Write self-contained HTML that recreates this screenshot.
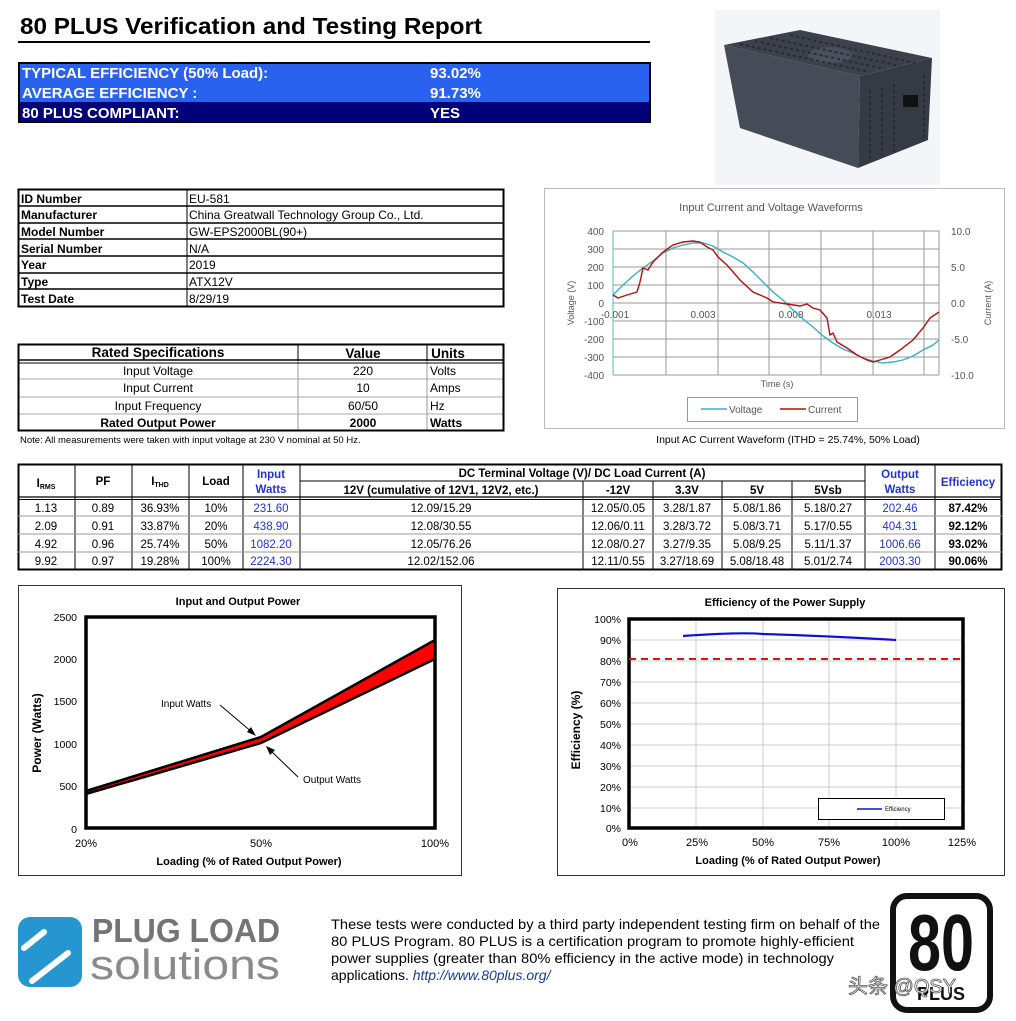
<!DOCTYPE html>
<html><head><meta charset="utf-8"><style>html,body{margin:0;padding:0;background:#fff}svg{display:block}</style></head>
<body>
<svg width="1016" height="1021" viewBox="0 0 1016 1021" xmlns="http://www.w3.org/2000/svg" font-family="Liberation Sans, Arial, sans-serif">
<rect width="1016" height="1021" fill="#fff"/>
<!-- Title -->
<text x="20" y="34" font-size="23" font-weight="bold" fill="#000" textLength="462" lengthAdjust="spacingAndGlyphs">80 PLUS Verification and Testing Report</text>
<rect x="18" y="41" width="632" height="2" fill="#000"/>
<!-- Blue box -->
<rect x="18" y="62" width="633" height="61" fill="#000"/>
<rect x="20" y="64" width="629" height="38" fill="#2a62f0"/>
<rect x="20" y="102" width="629" height="20" fill="#000078"/>
<g font-size="15" font-weight="bold" fill="#fff">
<text x="22" y="78">TYPICAL EFFICIENCY (50% Load):</text><text x="430" y="78">93.02%</text>
<text x="22" y="98">AVERAGE EFFICIENCY :</text><text x="430" y="98">91.73%</text>
<text x="22" y="118">80 PLUS COMPLIANT:</text><text x="430" y="118">YES</text>
</g>
<!-- Photo -->
<rect x="715" y="10" width="225" height="175" fill="#f4f5f8"/>
<polygon points="724,45 800,30 932,58 860,76" fill="#3c414c"/>
<polygon points="724,45 860,76 858,168 740,128" fill="#454b57"/>
<polygon points="860,76 932,58 928,140 858,168" fill="#353a44"/>
<ellipse cx="830" cy="55" rx="22" ry="8" fill="#4a505c"/>
<g stroke="#22252b" stroke-width="2" stroke-dasharray="3,3" opacity="0.8">
<line x1="740" y1="44" x2="870" y2="72"/><line x1="755" y1="41" x2="885" y2="69"/><line x1="770" y1="38" x2="900" y2="66"/><line x1="790" y1="35" x2="915" y2="63"/>
<line x1="870" y1="90" x2="870" y2="160"/><line x1="882" y1="88" x2="882" y2="156"/><line x1="894" y1="84" x2="894" y2="152"/><line x1="924" y1="75" x2="924" y2="140"/>
</g>
<rect x="903" y="95" width="15" height="12" fill="#111"/>
<!-- ID table -->
<g stroke="#000" fill="none">
<rect x="18.5" y="189.5" width="485" height="117" stroke-width="2"/>
<line x1="187" y1="189" x2="187" y2="306"/>
<line x1="18" y1="206" x2="503" y2="206" stroke-width="1.5"/><line x1="18" y1="223" x2="503" y2="223" stroke-width="1.5"/><line x1="18" y1="239" x2="503" y2="239" stroke-width="1.5"/><line x1="18" y1="256" x2="503" y2="256" stroke-width="1.5"/><line x1="18" y1="273" x2="503" y2="273" stroke-width="1.5"/><line x1="18" y1="289" x2="503" y2="289" stroke-width="1.5"/>
</g>
<g font-size="12" fill="#000">
<g font-weight="bold"><text x="21" y="203">ID Number</text><text x="21" y="219">Manufacturer</text><text x="21" y="236">Model Number</text><text x="21" y="253">Serial Number</text><text x="21" y="269">Year</text><text x="21" y="286">Type</text><text x="21" y="303">Test Date</text></g>
<text x="189" y="203">EU-581</text><text x="189" y="219">China Greatwall Technology Group Co., Ltd.</text><text x="189" y="236">GW-EPS2000BL(90+)</text><text x="189" y="253">N/A</text><text x="189" y="269">2019</text><text x="189" y="286">ATX12V</text><text x="189" y="303">8/29/19</text>
</g>
<!-- Rated spec table -->
<g fill="none">
<line x1="298" y1="344" x2="298" y2="431" stroke="#999"/><line x1="427" y1="344" x2="427" y2="431" stroke="#999"/>
<line x1="18" y1="379" x2="503" y2="379" stroke="#aaa"/><line x1="18" y1="397" x2="503" y2="397" stroke="#aaa"/><line x1="18" y1="414" x2="503" y2="414" stroke="#aaa"/>
<line x1="298" y1="344" x2="298" y2="361" stroke="#000"/><line x1="427" y1="344" x2="427" y2="361" stroke="#000"/>
<line x1="18" y1="360" x2="503" y2="360" stroke="#000" stroke-width="1.5"/><line x1="18" y1="363" x2="503" y2="363" stroke="#000"/>
<rect x="18.5" y="344.5" width="485" height="86" stroke="#000" stroke-width="2"/>
</g>
<g font-size="12" fill="#000" text-anchor="middle">
<g font-weight="bold" font-size="13.5"><text x="158" y="357">Rated Specifications</text><text x="363" y="358">Value</text><text x="448" y="358">Units</text></g>
<text x="158" y="375">Input Voltage</text><text x="363" y="375">220</text>
<text x="158" y="392">Input Current</text><text x="363" y="392">10</text>
<text x="158" y="410">Input Frequency</text><text x="363" y="410">60/50</text>
<text x="158" y="427" font-weight="bold">Rated Output Power</text><text x="363" y="427" font-weight="bold">2000</text>
</g>
<g font-size="12" fill="#000"><text x="430" y="375">Volts</text><text x="430" y="392">Amps</text><text x="430" y="410">Hz</text><text x="430" y="427" font-weight="bold">Watts</text></g>
<text x="20" y="443" font-size="9.5" fill="#000">Note: All measurements were taken with input voltage at 230 V nominal at 50 Hz.</text>
<!-- Waveform chart -->
<rect x="544.5" y="188.5" width="460" height="240" fill="#fff" stroke="#bbb"/>
<text x="771" y="211" font-size="11" fill="#555" text-anchor="middle">Input Current and Voltage Waveforms</text>
<g stroke="#999" stroke-width="1">
<line x1="613" y1="231" x2="939" y2="231"/><line x1="613" y1="249" x2="939" y2="249"/><line x1="613" y1="267" x2="939" y2="267"/><line x1="613" y1="285" x2="939" y2="285"/><line x1="613" y1="321" x2="939" y2="321"/><line x1="613" y1="339" x2="939" y2="339"/><line x1="613" y1="357" x2="939" y2="357"/><line x1="613" y1="375" x2="939" y2="375"/>
<line x1="666" y1="231" x2="666" y2="375"/><line x1="718" y1="231" x2="718" y2="375"/><line x1="769" y1="231" x2="769" y2="375"/><line x1="821" y1="231" x2="821" y2="375"/><line x1="873" y1="231" x2="873" y2="375"/><line x1="924" y1="231" x2="924" y2="375"/><line x1="939" y1="231" x2="939" y2="375"/>
<line x1="613" y1="303" x2="939" y2="303"/>
</g>
<line x1="613" y1="231" x2="613" y2="375" stroke="#5bb" stroke-width="1"/>
<g font-size="10" fill="#555">
<g text-anchor="end"><text x="604" y="235">400</text><text x="604" y="253">300</text><text x="604" y="271">200</text><text x="604" y="289">100</text><text x="604" y="307">0</text><text x="604" y="325">-100</text><text x="604" y="343">-200</text><text x="604" y="361">-300</text><text x="604" y="379">-400</text></g>
<text x="951" y="235">10.0</text><text x="951" y="271">5.0</text><text x="951" y="307">0.0</text><text x="951" y="343">-5.0</text><text x="951" y="379">-10.0</text>
<g text-anchor="middle"><text x="615" y="318">-0.001</text><text x="703" y="318">0.003</text><text x="791" y="318">0.008</text><text x="879" y="318">0.013</text></g>
<text x="777" y="387" font-size="9" text-anchor="middle">Time (s)</text>
<text transform="translate(574,303) rotate(-90)" text-anchor="middle" font-size="9">Voltage (V)</text>
<text transform="translate(991,303) rotate(-90)" text-anchor="middle" font-size="9">Current (A)</text>
</g>
<path fill="none" stroke="#3aaec0" stroke-width="1.4" d="M613,295 L623,285 L633,276 L643,268 L653,261 L663,253 L673,248 L683,245 L693,243 L703,243 L713,246 L723,252 L733,257 L743,263 L753,272 L763,282 L773,292 L783,300 L793,310 L803,319 L813,327 L823,336 L833,343 L843,349 L853,353 L863,358 L873,361 L883,363 L893,362 L903,360 L913,356 L923,350 L933,345 L939,340"/>
<polyline fill="none" stroke="#b01010" stroke-width="1.4" points="613,295 618,298 627,295 637,292 640,282 643,268 648,270 653,262 663,252 673,245 683,242 693,241 700,242 707,247 713,250 718,257 727,265 740,280 753,292 767,298 773,302 787,304 800,306 807,304 813,308 820,310 827,318 830,335 833,333 837,342 847,348 857,355 867,360 873,362 880,360 890,357 900,350 913,340 923,328 930,318 939,312"/>
<rect x="687.5" y="397.5" width="170" height="24" fill="#fff" stroke="#999"/>
<line x1="701" y1="409" x2="727" y2="409" stroke="#3aaec0" stroke-width="1.5"/><text x="729" y="413" font-size="10" fill="#555">Voltage</text>
<line x1="780" y1="409" x2="806" y2="409" stroke="#b01010" stroke-width="1.5"/><text x="808" y="413" font-size="10" fill="#555">Current</text>
<text x="788" y="443" font-size="10.5" fill="#000" text-anchor="middle">Input AC Current Waveform (ITHD = 25.74%, 50% Load)</text>
<!-- Main table -->
<g fill="none" stroke="#000">
<rect x="18.5" y="464.5" width="983" height="105" stroke-width="2"/>
<line x1="18" y1="497" x2="1002" y2="497" stroke-width="1.2"/><line x1="18" y1="499.5" x2="1002" y2="499.5"/>
<line x1="300" y1="481" x2="865" y2="481"/>
<g stroke-width="1"><line x1="75" y1="464" x2="75" y2="569"/><line x1="132" y1="464" x2="132" y2="569"/><line x1="189" y1="464" x2="189" y2="569"/><line x1="243" y1="464" x2="243" y2="569"/><line x1="300" y1="464" x2="300" y2="569"/><line x1="865" y1="464" x2="865" y2="569"/><line x1="935" y1="464" x2="935" y2="569"/>
<line x1="583" y1="481" x2="583" y2="569"/><line x1="653" y1="481" x2="653" y2="569"/><line x1="722" y1="481" x2="722" y2="569"/><line x1="792" y1="481" x2="792" y2="569"/></g>
<g stroke="#999"><line x1="18" y1="516" x2="1002" y2="516"/><line x1="18" y1="534" x2="1002" y2="534"/><line x1="18" y1="552" x2="1002" y2="552"/></g>
</g>
<g font-size="11.5" fill="#000" text-anchor="middle">
<g font-weight="bold">
<text x="46" y="487">I<tspan font-size="7" dy="2">RMS</tspan></text>
<text x="103" y="485">PF</text>
<text x="160" y="485">I<tspan font-size="7" dy="2">THD</tspan></text>
<text x="216" y="485">Load</text>
<text x="271" y="478" fill="#2233cc">Input</text><text x="271" y="493" fill="#2233cc">Watts</text>
<text x="582" y="477">DC Terminal Voltage (V)/ DC Load Current (A)</text>
<text x="441" y="494">12V (cumulative of 12V1, 12V2, etc.)</text>
<text x="618" y="494">-12V</text><text x="687" y="494">3.3V</text><text x="757" y="494">5V</text><text x="828" y="494">5Vsb</text>
<text x="900" y="478" fill="#2233cc">Output</text><text x="900" y="493" fill="#2233cc">Watts</text>
<text x="968" y="486" fill="#2233cc">Efficiency</text>
</g>
<g>
<text x="46" y="512">1.13</text><text x="103" y="512">0.89</text><text x="160" y="512">36.93%</text><text x="216" y="512">10%</text><text x="271" y="512" fill="#2233cc">231.60</text><text x="441" y="512">12.09/15.29</text><text x="618" y="512">12.05/0.05</text><text x="687" y="512">3.28/1.87</text><text x="757" y="512">5.08/1.86</text><text x="828" y="512">5.18/0.27</text><text x="900" y="512" fill="#2233cc">202.46</text><text x="968" y="512" font-weight="bold">87.42%</text>
<text x="46" y="530">2.09</text><text x="103" y="530">0.91</text><text x="160" y="530">33.87%</text><text x="216" y="530">20%</text><text x="271" y="530" fill="#2233cc">438.90</text><text x="441" y="530">12.08/30.55</text><text x="618" y="530">12.06/0.11</text><text x="687" y="530">3.28/3.72</text><text x="757" y="530">5.08/3.71</text><text x="828" y="530">5.17/0.55</text><text x="900" y="530" fill="#2233cc">404.31</text><text x="968" y="530" font-weight="bold">92.12%</text>
<text x="46" y="548">4.92</text><text x="103" y="548">0.96</text><text x="160" y="548">25.74%</text><text x="216" y="548">50%</text><text x="271" y="548" fill="#2233cc">1082.20</text><text x="441" y="548">12.05/76.26</text><text x="618" y="548">12.08/0.27</text><text x="687" y="548">3.27/9.35</text><text x="757" y="548">5.08/9.25</text><text x="828" y="548">5.11/1.37</text><text x="900" y="548" fill="#2233cc">1006.66</text><text x="968" y="548" font-weight="bold">93.02%</text>
<text x="46" y="565">9.92</text><text x="103" y="565">0.97</text><text x="160" y="565">19.28%</text><text x="216" y="565">100%</text><text x="271" y="565" fill="#2233cc">2224.30</text><text x="441" y="565">12.02/152.06</text><text x="618" y="565">12.11/0.55</text><text x="687" y="565">3.27/18.69</text><text x="757" y="565">5.08/18.48</text><text x="828" y="565">5.01/2.74</text><text x="900" y="565" fill="#2233cc">2003.30</text><text x="968" y="565" font-weight="bold">90.06%</text>
</g>
</g>
<!-- Left chart -->
<rect x="18.5" y="585.5" width="443" height="290" fill="#fff" stroke="#333"/>
<text x="238" y="605" font-size="11" font-weight="bold" text-anchor="middle">Input and Output Power</text>
<rect x="86" y="617" width="349" height="211" fill="#fff" stroke="#000" stroke-width="3.5"/>
<g font-size="10.5" fill="#000" text-anchor="end">
<text x="77" y="621">2500</text><text x="77" y="663">2000</text><text x="77" y="705">1500</text><text x="77" y="748">1000</text><text x="77" y="790">500</text><text x="77" y="833">0</text>
</g>
<g font-size="11" text-anchor="middle"><text x="86" y="847">20%</text><text x="261" y="847">50%</text><text x="435" y="847">100%</text></g>
<text x="249" y="865" font-size="11" font-weight="bold" text-anchor="middle">Loading (% of Rated Output Power)</text>
<text transform="translate(41,733) rotate(-90)" font-size="12" font-weight="bold" text-anchor="middle">Power (Watts)</text>
<polygon points="86,791 261,737 435,640 435,659 261,743 86,794" fill="#f00" stroke="#000" stroke-width="2.5"/>
<text x="161" y="707" font-size="10">Input Watts</text>
<line x1="220" y1="705" x2="253" y2="733" stroke="#000"/><polygon points="256,736 247,732 251,727" fill="#000"/>
<text x="303" y="783" font-size="10">Output Watts</text>
<line x1="298" y1="777" x2="270" y2="750" stroke="#000"/><polygon points="266,746 275,750 270,755" fill="#000"/>
<!-- Right chart -->
<rect x="557.5" y="588.5" width="447" height="287" fill="#fff" stroke="#333"/>
<text x="785" y="606" font-size="11" font-weight="bold" text-anchor="middle">Efficiency of the Power Supply</text>
<g stroke="#ccc">
<line x1="629" y1="640" x2="963" y2="640"/><line x1="629" y1="661" x2="963" y2="661"/><line x1="629" y1="682" x2="963" y2="682"/><line x1="629" y1="703" x2="963" y2="703"/><line x1="629" y1="724" x2="963" y2="724"/><line x1="629" y1="745" x2="963" y2="745"/><line x1="629" y1="766" x2="963" y2="766"/><line x1="629" y1="787" x2="963" y2="787"/><line x1="629" y1="808" x2="963" y2="808"/>
<line x1="696" y1="619" x2="696" y2="828"/><line x1="763" y1="619" x2="763" y2="828"/><line x1="829" y1="619" x2="829" y2="828"/><line x1="896" y1="619" x2="896" y2="828"/>
</g>
<rect x="629" y="619" width="334" height="209" fill="none" stroke="#000" stroke-width="3.5"/>
<line x1="629" y1="659" x2="965" y2="659" stroke="#e01010" stroke-width="2" stroke-dasharray="7,5"/>
<path d="M683,636 Q740,632 763,634 Q830,636 896,640" fill="none" stroke="#1010d0" stroke-width="2.2"/>
<rect x="818.5" y="798.5" width="126" height="21" fill="#fff" stroke="#000"/>
<line x1="857" y1="809" x2="882" y2="809" stroke="#1010d0" stroke-width="1.5"/><text x="885" y="811" font-size="6">Efficiency</text>
<g font-size="10.5" text-anchor="end">
<text x="621" y="623">100%</text><text x="621" y="644">90%</text><text x="621" y="665">80%</text><text x="621" y="686">70%</text><text x="621" y="707">60%</text><text x="621" y="728">50%</text><text x="621" y="749">40%</text><text x="621" y="770">30%</text><text x="621" y="791">20%</text><text x="621" y="812">10%</text><text x="621" y="832">0%</text>
</g>
<g font-size="11" text-anchor="middle"><text x="630" y="846">0%</text><text x="697" y="846">25%</text><text x="763" y="846">50%</text><text x="829" y="846">75%</text><text x="896" y="846">100%</text><text x="962" y="846">125%</text></g>
<text x="788" y="864" font-size="11" font-weight="bold" text-anchor="middle">Loading (% of Rated Output Power)</text>
<text transform="translate(580,730) rotate(-90)" font-size="12" font-weight="bold" text-anchor="middle">Efficiency (%)</text>
<!-- Footer -->
<rect x="18" y="917" width="64" height="70" rx="12" fill="#2596cf"/>
<line x1="24" y1="948" x2="44" y2="932" stroke="#fff" stroke-width="6" stroke-linecap="round"/>
<line x1="32" y1="981" x2="68" y2="953" stroke="#fff" stroke-width="6" stroke-linecap="round"/>
<text x="92" y="942" font-size="33" font-weight="bold" fill="#747474" textLength="188" lengthAdjust="spacingAndGlyphs">PLUG LOAD</text>
<text x="90" y="979" font-size="42" fill="#8a8a8a" textLength="190" lengthAdjust="spacingAndGlyphs">solutions</text>
<g font-size="14" fill="#000">
<text x="331" y="929" textLength="549" lengthAdjust="spacingAndGlyphs">These tests were conducted by a third party independent testing firm on behalf of the</text>
<text x="331" y="946" textLength="523" lengthAdjust="spacingAndGlyphs">80 PLUS Program. 80 PLUS is a certification program to promote highly-efficient</text>
<text x="331" y="963" textLength="503" lengthAdjust="spacingAndGlyphs">power supplies (greater than 80% efficiency in the active mode) in technology</text>
<text x="331" y="980">applications.  <tspan fill="#1a3a9a" font-style="italic">http://www.80plus.org/</tspan></text>
</g>
<rect x="893" y="896" width="97" height="114" rx="14" fill="#fff" stroke="#111" stroke-width="6"/>
<text x="941" y="970" font-size="80" font-weight="bold" text-anchor="middle" fill="#111" textLength="66" lengthAdjust="spacingAndGlyphs">80</text>
<text x="941" y="1000" font-size="18" font-weight="bold" text-anchor="middle" fill="#111">PLUS</text>
<text x="848" y="993" font-size="20" fill="#fff" stroke="#555" stroke-width="0.8" font-family="Liberation Sans, Noto Sans CJK SC, sans-serif">头条 @QSY</text>
</svg>
</body></html>
